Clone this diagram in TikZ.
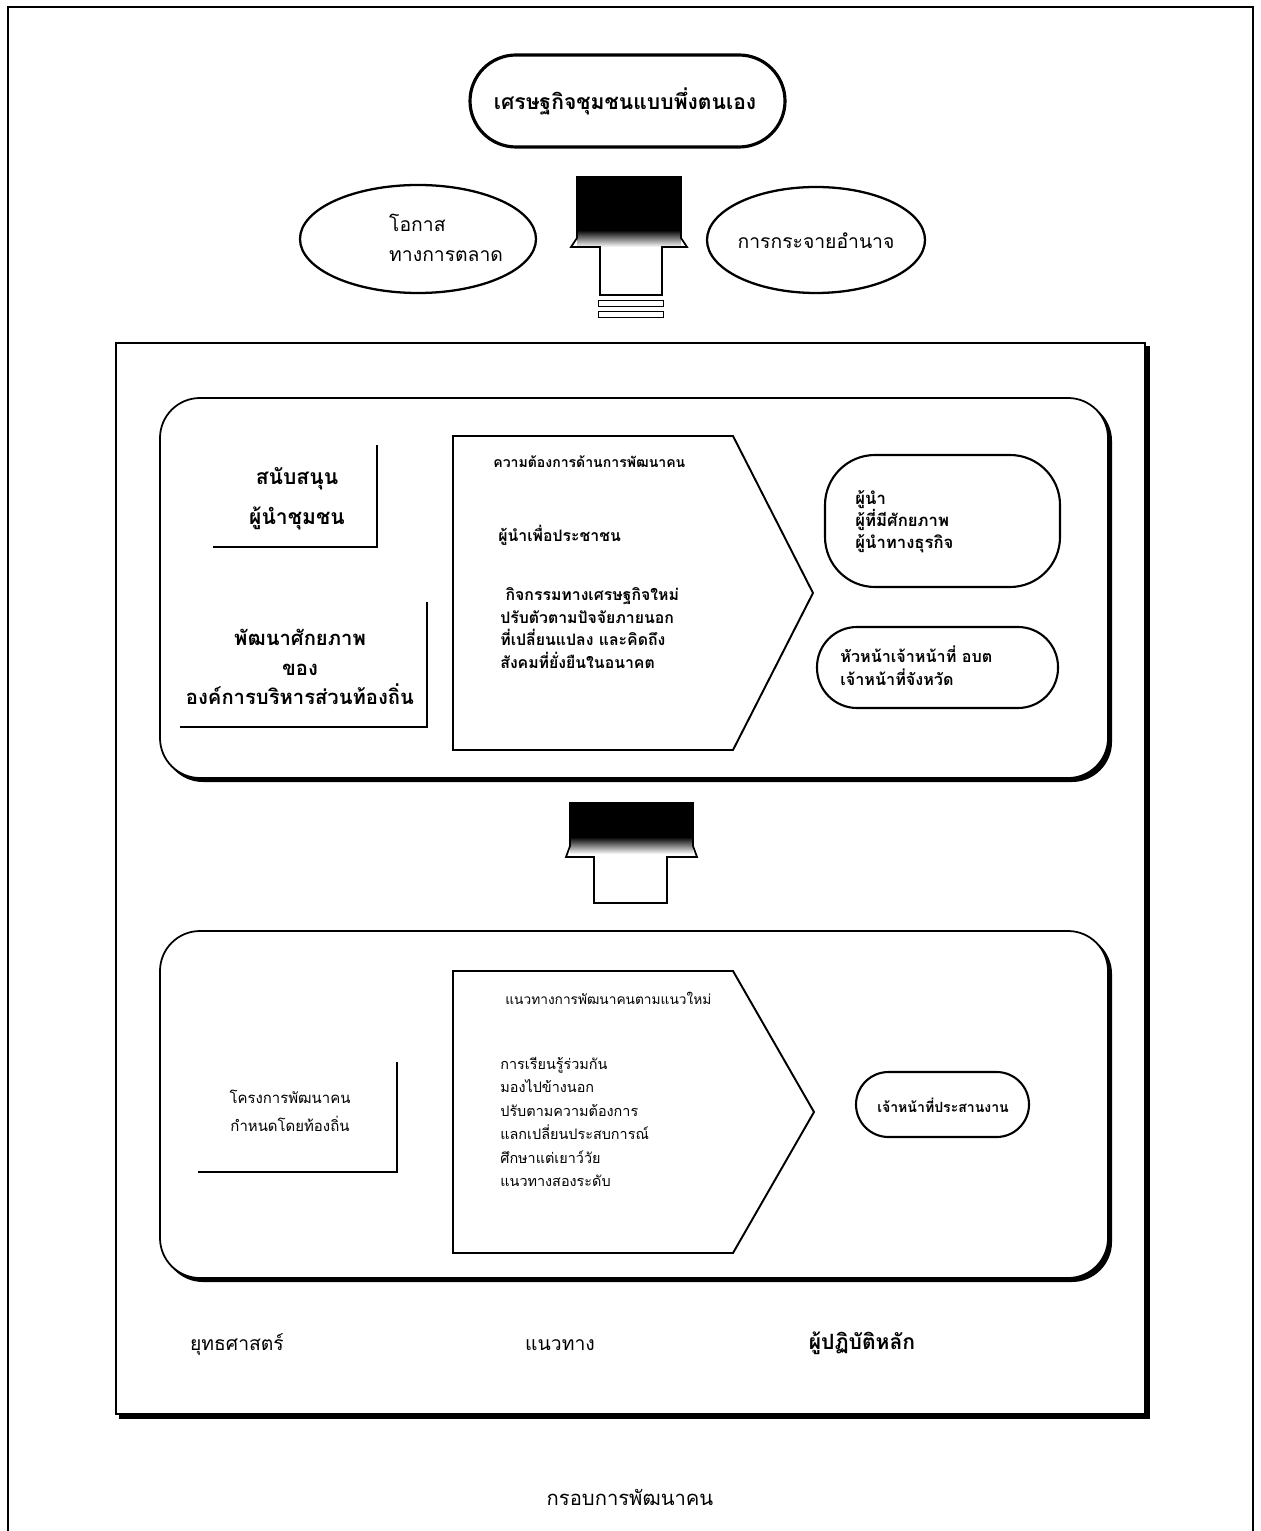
\documentclass[tikz,border=0pt]{standalone}
\usepackage{fontspec}
\setmainfont[Script=Thai]{Loma}
\begin{document}
\begin{tikzpicture}[x=0.2mm,y=-0.2mm,
    frame/.style={line width=0.8pt},
    edge/.style={line width=1.6pt},
    big/.style={font=\bfseries\fontsize{11.5}{17}\selectfont,align=center,inner sep=0pt},
    mid/.style={font=\bfseries\fontsize{9}{13}\selectfont,align=left,inner sep=0pt},
    low/.style={font=\fontsize{8.2}{13.4}\selectfont,align=left,inner sep=0pt}]
    \useasboundingbox (0,0) rectangle (1260,1531);
    \draw[frame] (8,1531) -- (8,7) -- (1253,7) -- (1253,1531);
    \draw[line width=1.8pt,rounded corners=9.2mm] (470,55) rectangle (785,147);
    \node[font=\bfseries\fontsize{12}{15}\selectfont] (goal) at (625,101) {เศรษฐกิจชุมชนแบบพึ่งตนเอง};
    \draw[line width=1.3pt] (418,239) ellipse [x radius=23.6mm,y radius=10.8mm];
    \draw[line width=1.3pt] (816,240) ellipse [x radius=21.8mm,y radius=10.6mm];
    \node[font=\fontsize{11}{17}\selectfont,align=left,anchor=west] (market) at (383,238) {โอกาส\\ทางการตลาด};
    \node[font=\fontsize{11}{15}\selectfont] (power) at (816,241) {การกระจายอำนาจ};
    \fill (577,177) rectangle (681,231);
    \shade[top color=black,bottom color=white] (577,230) rectangle (681,247);
    \draw[line width=1pt] (577,177) -- (681,177) -- (681,238) -- (687,247) -- (662,247) -- (662,295)
        -- (600,295) -- (600,247) -- (571,247) -- (577,238) -- cycle;
    \foreach \y in {300,311}
        \draw (598,\y) rectangle (663,\y+6);
    \fill (119,346) rectangle (1150,1419);
    \draw[frame,fill=white] (116,343) rectangle (1145,1414);
    \fill[rounded corners=8mm] (163,401) rectangle (1112,782);
    \draw[line width=1pt,fill=white,rounded corners=8mm] (160,398) rectangle (1108,778);
    \draw[edge] (213,547) -- (377,547) -- (377,445);
    \node[big,font=\bfseries\fontsize{12}{17}\selectfont] (support) at (297,499) {สนับสนุน\\[6pt]ผู้นำชุมชน};
    \draw[edge] (180,727) -- (427,727) -- (427,602);
    \node[big] (potential) at (300,667) {พัฒนาศักยภาพ\\ของ\\องค์การบริหารส่วนท้องถิ่น};
    \draw[line width=1.1pt] (453,436) -- (733,436) -- (813,593) -- (733,750) -- (453,750) -- cycle;
    \node[mid,font=\bfseries\fontsize{8}{11}\selectfont,anchor=west] (need) at (493,462) {ความต้องการด้านการพัฒนาคน};
    \node[mid,anchor=west] (people) at (498,535) {ผู้นำเพื่อประชาชน};
    \node[mid,anchor=west] (act) at (500,628) {\hspace{3pt}กิจกรรมทางเศรษฐกิจใหม่\\ปรับตัวตามปัจจัยภายนอก\\ที่เปลี่ยนแปลง และคิดถึง\\สังคมที่ยั่งยืนในอนาคต};
    \draw[line width=1.2pt,rounded corners=10mm] (825,455) rectangle (1060,587);
    \node[mid,font=\bfseries\fontsize{9.5}{12.5}\selectfont,anchor=west] (leader) at (855,522) {ผู้นำ\\ผู้ที่มีศักยภาพ\\ผู้นำทางธุรกิจ};
    \draw[line width=1.2pt,rounded corners=8mm] (817,627) rectangle (1058,708);
    \node[mid,font=\bfseries\fontsize{9.2}{13}\selectfont,anchor=west] (staff) at (840,666) {หัวหน้าเจ้าหน้าที่ อบต\\เจ้าหน้าที่จังหวัด};
    \fill (570,803) rectangle (693,838);
    \shade[top color=black,bottom color=white] (570,837) rectangle (693,854);
    \draw[line width=1pt] (570,803) -- (693,803) -- (693,846) -- (697,857) -- (667,857) -- (667,903)
        -- (594,903) -- (594,857) -- (566,857) -- (570,846) -- cycle;
    \fill[rounded corners=8mm] (163,934) rectangle (1112,1282);
    \draw[line width=1pt,fill=white,rounded corners=8mm] (160,931) rectangle (1108,1278);
    \draw[edge] (198,1172) -- (397,1172) -- (397,1062);
    \node[low,font=\fontsize{8.5}{10}\selectfont,align=center] (project) at (290,1111) {โครงการพัฒนาคน\\[6pt]กำหนดโดยท้องถิ่น};
    \draw[line width=1.1pt] (453,971) -- (733,971) -- (814,1112) -- (733,1253) -- (453,1253) -- cycle;
    \node[low,font=\fontsize{7.8}{11}\selectfont,anchor=west] (way) at (505,998) {แนวทางการพัฒนาคนตามแนวใหม่};
    \node[low,anchor=west] (ways) at (500,1122) {การเรียนรู้ร่วมกัน\\มองไปข้างนอก\\ปรับตามความต้องการ\\แลกเปลี่ยนประสบการณ์\\ศึกษาแต่เยาว์วัย\\แนวทางสองระดับ};
    \draw[line width=1.2pt,rounded corners=6.5mm] (856,1072) rectangle (1029,1137);
    \node[low,font=\bfseries\fontsize{8}{12}\selectfont] (coord) at (943,1105) {เจ้าหน้าที่ประสานงาน};
    \node[font=\fontsize{11}{13}\selectfont] (strategy) at (237,1345) {ยุทธศาสตร์};
    \node[font=\fontsize{11}{13}\selectfont] (approach) at (560,1345) {แนวทาง};
    \node[font=\bfseries\fontsize{12}{14}\selectfont] (actor) at (862,1343) {ผู้ปฏิบัติหลัก};
    \node[font=\fontsize{11.5}{15}\selectfont] (caption) at (630,1497) {กรอบการพัฒนาคน};
\end{tikzpicture}
\end{document}
